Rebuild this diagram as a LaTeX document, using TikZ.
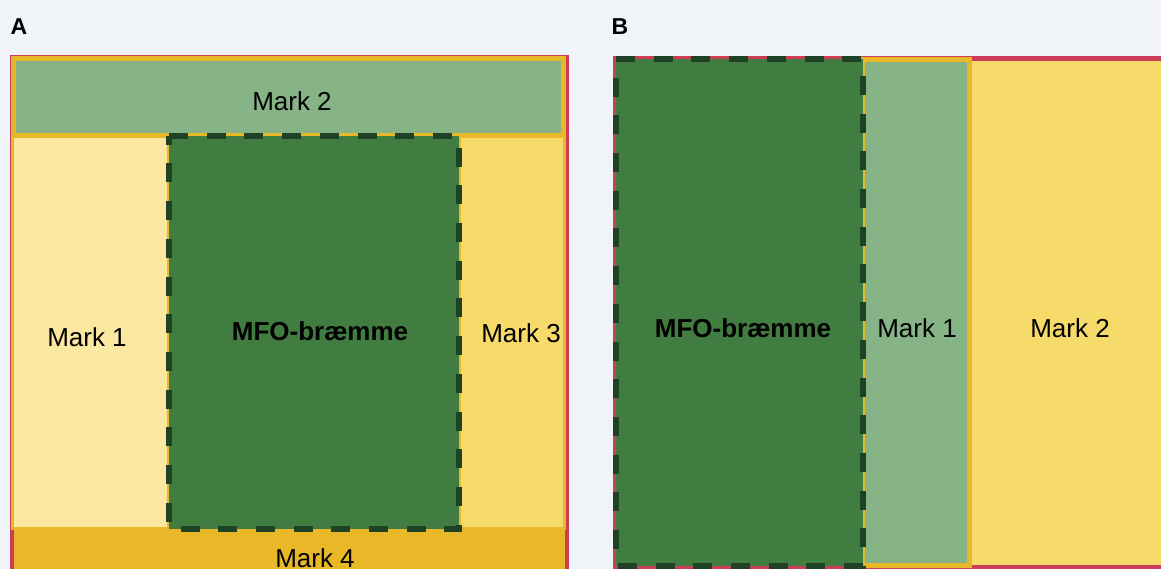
\documentclass[tikz,border=0pt]{standalone}
\usepackage{fontspec}
\setmainfont{Liberation Sans}
\definecolor{bgc}{HTML}{F0F4F8}
\definecolor{redc}{HTML}{CC3D58}
\definecolor{yelb}{HTML}{E8B828}
\definecolor{lgreen}{HTML}{86B486}
\definecolor{dgreen}{HTML}{417D40}
\definecolor{dashc}{HTML}{1F4226}
\definecolor{paley}{HTML}{FAE8A0}
\definecolor{midy}{HTML}{F7DB6A}
\begin{document}
\begin{tikzpicture}[x=1pt,y=-1pt,
  lbl/.style={font=\fontsize{26}{30}\selectfont, anchor=base, inner sep=0pt},
  blbl/.style={font=\fontsize{26}{30}\selectfont\bfseries, anchor=base, inner sep=0pt},
  ttl/.style={font=\fontsize{23}{27}\selectfont\bfseries, anchor=base, inner sep=0pt},
  mfobox/.style={fill=dgreen, draw=dashc, line width=6.5pt, dash pattern=on 19pt off 18.7pt},
  markbox/.style={draw=yelb, line width=#1},
  outerbox/.style={draw=redc, line width=#1}]
\useasboundingbox (0,0) rectangle (1161,569);
\fill[bgc] (0,0) rectangle (1161,569);
\begin{scope}
\clip (0,0) rectangle (1161,569);
% ---------- Panel A ----------
\draw[outerbox=4pt] (11.5,57) rectangle (567,620);
\fill[yelb] (13.5,528) rectangle (565,620);
\draw[markbox=3pt, fill=paley] (12.5,137) rectangle (168,528);
\draw[markbox=3pt, fill=midy] (459,137) rectangle (564.5,528);
\draw[markbox=5pt, fill=lgreen] (13.5,58.5) rectangle (563.5,135.5);
\draw[mfobox] (169,136) -- (459,136) -- (459,529) -- (169,529) -- cycle;
% ---------- Panel B ----------
\draw[outerbox=5pt] (615,58.5) rectangle (1200,567);
\fill[midy] (970,61) rectangle (1200,564.5);
\draw[markbox=5pt, fill=lgreen] (862,60) rectangle (969.5,565.5);
\draw[mfobox] (616,59) -- (863,59) -- (863,566) -- (616,566) -- cycle;
\end{scope}
% ---------- Labels ----------
\node[ttl] (tA) at (19,35) {A};
\node[ttl] (tB) at (620,35) {B};
\node[lbl] (a2) at (292,110.5) {Mark 2};
\node[lbl] (a1) at (87,346) {Mark 1};
\node[blbl] (amfo) at (320,340) {MFO-bræmme};
\node[lbl] (a3) at (521,342) {Mark 3};
\node[lbl] (a4) at (315,567) {Mark 4};
\node[blbl] (bmfo) at (743,337) {MFO-bræmme};
\node[lbl] (b1) at (917,337) {Mark 1};
\node[lbl] (b2) at (1070,337) {Mark 2};
\end{tikzpicture}
\end{document}
